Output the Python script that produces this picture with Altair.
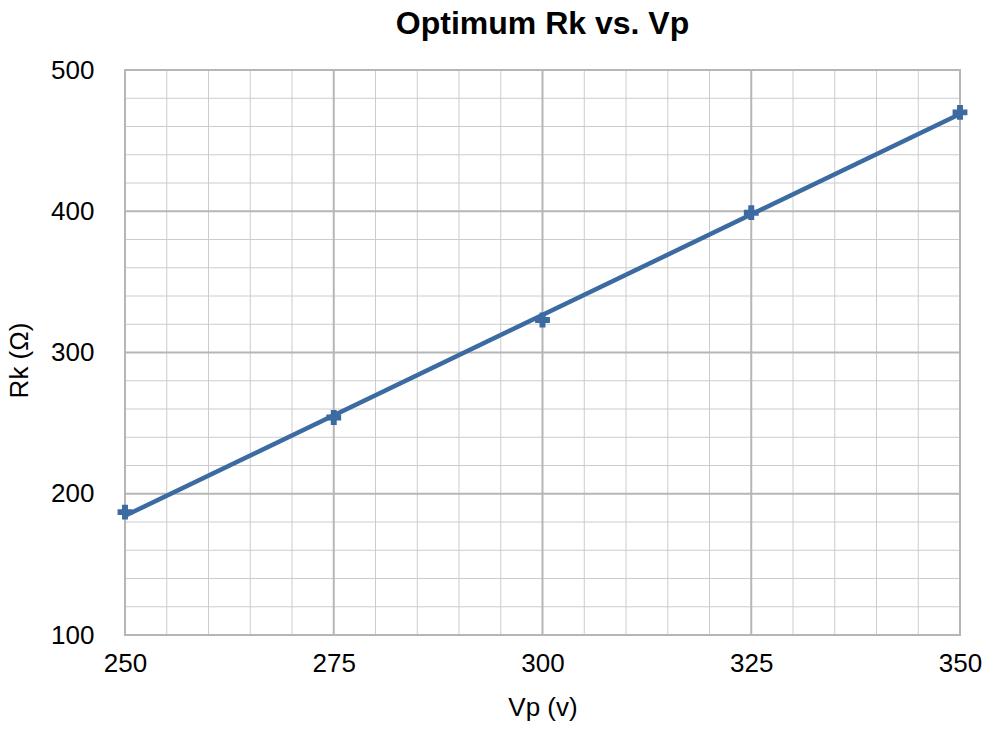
import altair as alt
import pandas as pd

# Data
vp = [250, 275, 300, 325, 350]
rk = [187, 254, 323, 399, 470]

x_major = [250, 275, 300, 325, 350]
x_minor = [255, 260, 265, 270, 280, 285, 290, 295, 305, 310, 315, 320,
           330, 335, 340, 345]
y_major = [100, 200, 300, 400, 500]
y_minor = [120, 140, 160, 180, 220, 240, 260, 280, 320, 340, 360, 380,
           420, 440, 460, 480]

FONT = "Liberation Sans"
BLUE = "#3b6ba1"
MAJOR = "#b6b6b6"
MINOR = "#cccccc"

df = pd.DataFrame({"Vp": vp, "Rk": rk})
xs = alt.Scale(domain=[250, 350], nice=False, zero=False)
ys = alt.Scale(domain=[100, 500], nice=False, zero=False)

x_axis = alt.Axis(values=x_major, grid=False, ticks=False, domain=False,
                  labelFont=FONT, labelFontSize=26, labelColor="black",
                  labelPadding=15, labelFlush=False,
                  title="Vp (v)", titleFont=FONT, titleFontSize=26,
                  titleFontWeight="normal", titleColor="black",
                  titleBaseline="alphabetic", titleY=80)
y_axis = alt.Axis(values=y_major, grid=False, ticks=False, domain=False,
                  labelFont=FONT, labelFontSize=26, labelColor="black",
                  labelPadding=31, labelFlush=False,
                  title="Rk (Ω)", titleFont=FONT, titleFontSize=26,
                  titleFontWeight="normal", titleColor="black",
                  titleAngle=-90, titleAlign="center",
                  titleBaseline="alphabetic", titleX=-98, titleY=290)

X = lambda f: alt.X(f, scale=xs, axis=x_axis, title="Vp (v)")
Y = lambda f: alt.Y(f, scale=ys, axis=y_axis, title="Rk (Ω)")

minor_x = alt.Chart(pd.DataFrame({"v": x_minor})).mark_rule(
    color=MINOR, strokeWidth=1).encode(x=X("v:Q"))
minor_y = alt.Chart(pd.DataFrame({"v": y_minor})).mark_rule(
    color=MINOR, strokeWidth=1).encode(y=Y("v:Q"))
major_x = alt.Chart(pd.DataFrame({"v": x_major})).mark_rule(
    color=MAJOR, strokeWidth=2).encode(x=X("v:Q"))
major_y = alt.Chart(pd.DataFrame({"v": y_major})).mark_rule(
    color=MAJOR, strokeWidth=2).encode(y=Y("v:Q"))

points = alt.Chart(df).mark_point(
    shape="cross", filled=True, size=220, color=BLUE, opacity=1).encode(
    x=X("Vp:Q"), y=Y("Rk:Q"))

trend = alt.Chart(df).transform_regression("Vp", "Rk", method="linear").mark_line(
    color=BLUE, strokeWidth=4.5).encode(x=X("Vp:Q"), y=Y("Rk:Q"))

chart = alt.layer(minor_x, minor_y, major_x, major_y, points, trend).properties(
    width=835,
    height=565,
    autosize=alt.AutoSizeParams(type="none"),
    padding={"left": 117, "top": 62, "right": 24, "bottom": 90},
    title=alt.TitleParams("Optimum Rk vs. Vp", font=FONT, fontSize=32,
                          fontWeight="bold", color="black", anchor="middle",
                          frame="group", offset=16),
).configure_view(stroke=MAJOR, strokeWidth=2)

chart.save("out.html", embed_options={"renderer": "svg", "actions": False})
